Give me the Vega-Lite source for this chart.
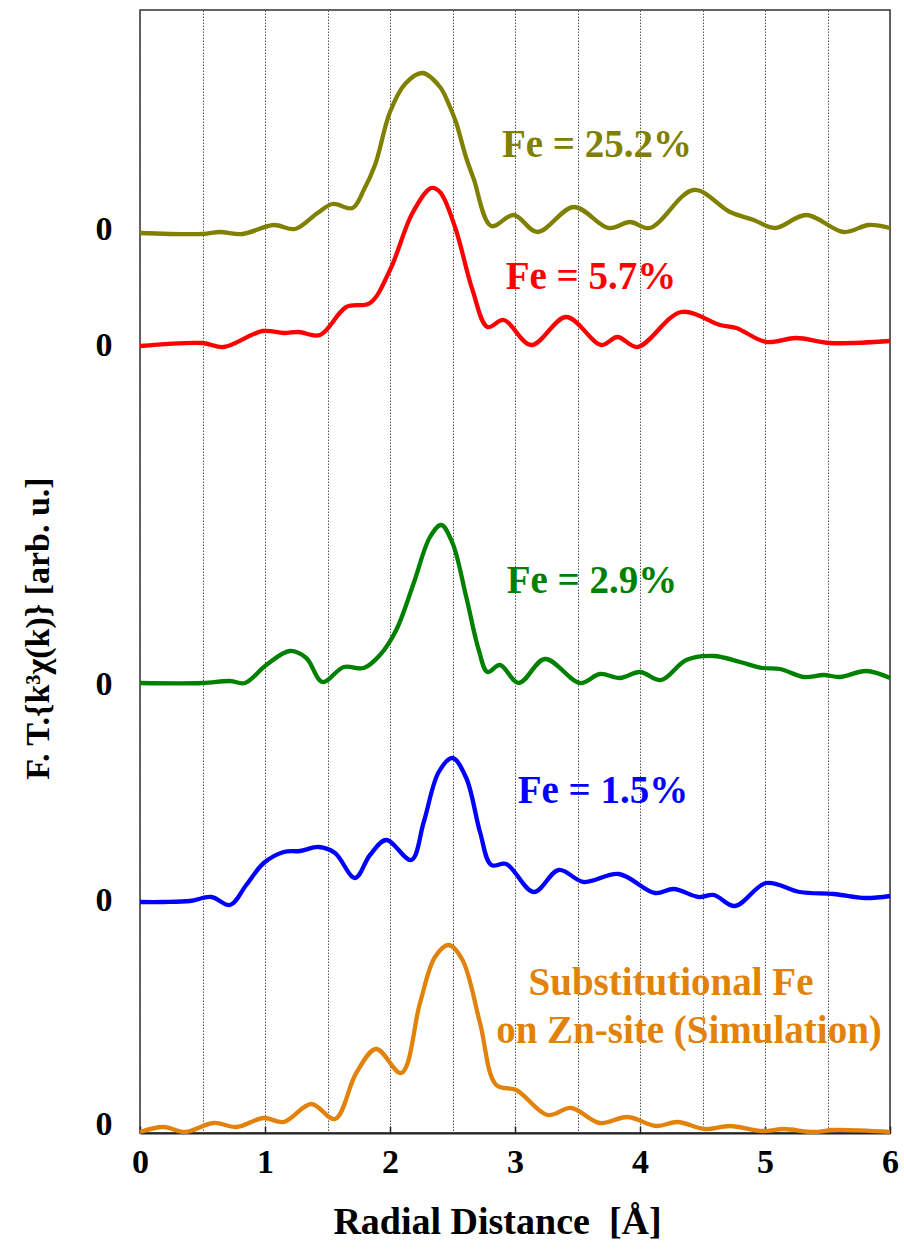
{
  "$schema": "https://vega.github.io/schema/vega-lite/v6.json",
  "width": 750,
  "height": 1123,
  "autosize": {"type": "none"},
  "padding": {"left": 140, "top": 10, "right": 14, "bottom": 116},
  "background": "white",
  "config": {"view": {"stroke": "#333", "strokeWidth": 1.5}, "font": "Liberation Serif"},
  "datasets": {
    "curves": [
      {"series": "Fe = 25.2%", "r": 0, "v": 900}, {"series": "Fe = 25.2%", "r": 0.5, "v": 899}, {"series": "Fe = 25.2%", "r": 0.64, "v": 901}, {"series": "Fe = 25.2%", "r": 0.82, "v": 899}, {"series": "Fe = 25.2%", "r": 1.07, "v": 908}, {"series": "Fe = 25.2%", "r": 1.24, "v": 904}, {"series": "Fe = 25.2%", "r": 1.42, "v": 920}, {"series": "Fe = 25.2%", "r": 1.54, "v": 929}, {"series": "Fe = 25.2%", "r": 1.7, "v": 925}, {"series": "Fe = 25.2%", "r": 1.79, "v": 943}, {"series": "Fe = 25.2%", "r": 1.88, "v": 968}, {"series": "Fe = 25.2%", "r": 2.0, "v": 1021}, {"series": "Fe = 25.2%", "r": 2.12, "v": 1049}, {"series": "Fe = 25.2%", "r": 2.26, "v": 1060}, {"series": "Fe = 25.2%", "r": 2.4, "v": 1046}, {"series": "Fe = 25.2%", "r": 2.48, "v": 1026}, {"series": "Fe = 25.2%", "r": 2.53, "v": 1010}, {"series": "Fe = 25.2%", "r": 2.61, "v": 975}, {"series": "Fe = 25.2%", "r": 2.67, "v": 954}, {"series": "Fe = 25.2%", "r": 2.81, "v": 907}, {"series": "Fe = 25.2%", "r": 2.99, "v": 918}, {"series": "Fe = 25.2%", "r": 3.18, "v": 901}, {"series": "Fe = 25.2%", "r": 3.47, "v": 926}, {"series": "Fe = 25.2%", "r": 3.75, "v": 905}, {"series": "Fe = 25.2%", "r": 3.92, "v": 911}, {"series": "Fe = 25.2%", "r": 4.08, "v": 905}, {"series": "Fe = 25.2%", "r": 4.43, "v": 943}, {"series": "Fe = 25.2%", "r": 4.72, "v": 921}, {"series": "Fe = 25.2%", "r": 4.91, "v": 913}, {"series": "Fe = 25.2%", "r": 5.08, "v": 905}, {"series": "Fe = 25.2%", "r": 5.33, "v": 918}, {"series": "Fe = 25.2%", "r": 5.63, "v": 901}, {"series": "Fe = 25.2%", "r": 5.83, "v": 908}, {"series": "Fe = 25.2%", "r": 6.0, "v": 905},

      {"series": "Fe = 5.7%", "r": 0, "v": 787}, {"series": "Fe = 5.7%", "r": 0.5, "v": 790}, {"series": "Fe = 5.7%", "r": 0.67, "v": 786}, {"series": "Fe = 5.7%", "r": 0.98, "v": 802}, {"series": "Fe = 5.7%", "r": 1.15, "v": 800}, {"series": "Fe = 5.7%", "r": 1.27, "v": 801}, {"series": "Fe = 5.7%", "r": 1.44, "v": 798}, {"series": "Fe = 5.7%", "r": 1.65, "v": 826}, {"series": "Fe = 5.7%", "r": 1.84, "v": 830}, {"series": "Fe = 5.7%", "r": 2.0, "v": 863}, {"series": "Fe = 5.7%", "r": 2.18, "v": 920}, {"series": "Fe = 5.7%", "r": 2.33, "v": 945}, {"series": "Fe = 5.7%", "r": 2.4, "v": 941}, {"series": "Fe = 5.7%", "r": 2.52, "v": 906}, {"series": "Fe = 5.7%", "r": 2.66, "v": 843}, {"series": "Fe = 5.7%", "r": 2.78, "v": 806}, {"series": "Fe = 5.7%", "r": 2.91, "v": 813}, {"series": "Fe = 5.7%", "r": 3.13, "v": 788}, {"series": "Fe = 5.7%", "r": 3.41, "v": 816}, {"series": "Fe = 5.7%", "r": 3.69, "v": 788}, {"series": "Fe = 5.7%", "r": 3.82, "v": 796}, {"series": "Fe = 5.7%", "r": 3.98, "v": 786}, {"series": "Fe = 5.7%", "r": 4.33, "v": 821}, {"series": "Fe = 5.7%", "r": 4.64, "v": 808}, {"series": "Fe = 5.7%", "r": 4.77, "v": 805}, {"series": "Fe = 5.7%", "r": 5.01, "v": 791}, {"series": "Fe = 5.7%", "r": 5.25, "v": 795}, {"series": "Fe = 5.7%", "r": 5.52, "v": 790}, {"series": "Fe = 5.7%", "r": 6.0, "v": 792},

      {"series": "Fe = 2.9%", "r": 0, "v": 450}, {"series": "Fe = 2.9%", "r": 0.5, "v": 450}, {"series": "Fe = 2.9%", "r": 0.72, "v": 452}, {"series": "Fe = 2.9%", "r": 0.84, "v": 450}, {"series": "Fe = 2.9%", "r": 1.01, "v": 468}, {"series": "Fe = 2.9%", "r": 1.2, "v": 482}, {"series": "Fe = 2.9%", "r": 1.33, "v": 475}, {"series": "Fe = 2.9%", "r": 1.46, "v": 451}, {"series": "Fe = 2.9%", "r": 1.63, "v": 466}, {"series": "Fe = 2.9%", "r": 1.79, "v": 465}, {"series": "Fe = 2.9%", "r": 1.92, "v": 478}, {"series": "Fe = 2.9%", "r": 2.05, "v": 503}, {"series": "Fe = 2.9%", "r": 2.19, "v": 550}, {"series": "Fe = 2.9%", "r": 2.32, "v": 596}, {"series": "Fe = 2.9%", "r": 2.41, "v": 608}, {"series": "Fe = 2.9%", "r": 2.5, "v": 590}, {"series": "Fe = 2.9%", "r": 2.61, "v": 536}, {"series": "Fe = 2.9%", "r": 2.71, "v": 483}, {"series": "Fe = 2.9%", "r": 2.78, "v": 461}, {"series": "Fe = 2.9%", "r": 2.88, "v": 468}, {"series": "Fe = 2.9%", "r": 3.03, "v": 450}, {"series": "Fe = 2.9%", "r": 3.24, "v": 474}, {"series": "Fe = 2.9%", "r": 3.52, "v": 450}, {"series": "Fe = 2.9%", "r": 3.68, "v": 459}, {"series": "Fe = 2.9%", "r": 3.84, "v": 455}, {"series": "Fe = 2.9%", "r": 4.0, "v": 461}, {"series": "Fe = 2.9%", "r": 4.17, "v": 453}, {"series": "Fe = 2.9%", "r": 4.37, "v": 473}, {"series": "Fe = 2.9%", "r": 4.59, "v": 477}, {"series": "Fe = 2.9%", "r": 4.8, "v": 471}, {"series": "Fe = 2.9%", "r": 4.98, "v": 465}, {"series": "Fe = 2.9%", "r": 5.12, "v": 464}, {"series": "Fe = 2.9%", "r": 5.31, "v": 456}, {"series": "Fe = 2.9%", "r": 5.47, "v": 458}, {"series": "Fe = 2.9%", "r": 5.6, "v": 456}, {"series": "Fe = 2.9%", "r": 5.81, "v": 462}, {"series": "Fe = 2.9%", "r": 6.0, "v": 455},

      {"series": "Fe = 1.5%", "r": 0, "v": 231}, {"series": "Fe = 1.5%", "r": 0.19, "v": 231}, {"series": "Fe = 1.5%", "r": 0.4, "v": 232}, {"series": "Fe = 1.5%", "r": 0.57, "v": 236}, {"series": "Fe = 1.5%", "r": 0.72, "v": 228}, {"series": "Fe = 1.5%", "r": 0.85, "v": 248}, {"series": "Fe = 1.5%", "r": 0.99, "v": 270}, {"series": "Fe = 1.5%", "r": 1.15, "v": 281}, {"series": "Fe = 1.5%", "r": 1.28, "v": 282}, {"series": "Fe = 1.5%", "r": 1.43, "v": 286}, {"series": "Fe = 1.5%", "r": 1.56, "v": 280}, {"series": "Fe = 1.5%", "r": 1.72, "v": 255}, {"series": "Fe = 1.5%", "r": 1.84, "v": 278}, {"series": "Fe = 1.5%", "r": 1.97, "v": 293}, {"series": "Fe = 1.5%", "r": 2.17, "v": 273}, {"series": "Fe = 1.5%", "r": 2.27, "v": 311}, {"series": "Fe = 1.5%", "r": 2.39, "v": 361}, {"series": "Fe = 1.5%", "r": 2.5, "v": 375}, {"series": "Fe = 1.5%", "r": 2.61, "v": 355}, {"series": "Fe = 1.5%", "r": 2.72, "v": 301}, {"series": "Fe = 1.5%", "r": 2.81, "v": 268}, {"series": "Fe = 1.5%", "r": 2.93, "v": 269}, {"series": "Fe = 1.5%", "r": 3.15, "v": 241}, {"series": "Fe = 1.5%", "r": 3.35, "v": 263}, {"series": "Fe = 1.5%", "r": 3.55, "v": 251}, {"series": "Fe = 1.5%", "r": 3.83, "v": 259}, {"series": "Fe = 1.5%", "r": 4.12, "v": 240}, {"series": "Fe = 1.5%", "r": 4.27, "v": 244}, {"series": "Fe = 1.5%", "r": 4.47, "v": 236}, {"series": "Fe = 1.5%", "r": 4.59, "v": 238}, {"series": "Fe = 1.5%", "r": 4.76, "v": 227}, {"series": "Fe = 1.5%", "r": 5.01, "v": 250}, {"series": "Fe = 1.5%", "r": 5.28, "v": 241}, {"series": "Fe = 1.5%", "r": 5.55, "v": 239}, {"series": "Fe = 1.5%", "r": 5.8, "v": 235}, {"series": "Fe = 1.5%", "r": 6.0, "v": 237},

      {"series": "Simulation", "r": 0, "v": 1}, {"series": "Simulation", "r": 0.19, "v": 6}, {"series": "Simulation", "r": 0.36, "v": 1}, {"series": "Simulation", "r": 0.59, "v": 10}, {"series": "Simulation", "r": 0.77, "v": 6}, {"series": "Simulation", "r": 0.99, "v": 15}, {"series": "Simulation", "r": 1.15, "v": 11}, {"series": "Simulation", "r": 1.37, "v": 29}, {"series": "Simulation", "r": 1.56, "v": 14}, {"series": "Simulation", "r": 1.73, "v": 60}, {"series": "Simulation", "r": 1.89, "v": 84}, {"series": "Simulation", "r": 2.09, "v": 60}, {"series": "Simulation", "r": 2.24, "v": 130}, {"series": "Simulation", "r": 2.36, "v": 176}, {"series": "Simulation", "r": 2.47, "v": 188}, {"series": "Simulation", "r": 2.58, "v": 173}, {"series": "Simulation", "r": 2.72, "v": 110}, {"series": "Simulation", "r": 2.85, "v": 48}, {"series": "Simulation", "r": 3.01, "v": 43}, {"series": "Simulation", "r": 3.26, "v": 18}, {"series": "Simulation", "r": 3.45, "v": 25}, {"series": "Simulation", "r": 3.68, "v": 10}, {"series": "Simulation", "r": 3.9, "v": 16}, {"series": "Simulation", "r": 4.13, "v": 7}, {"series": "Simulation", "r": 4.3, "v": 11}, {"series": "Simulation", "r": 4.52, "v": 4}, {"series": "Simulation", "r": 4.72, "v": 7}, {"series": "Simulation", "r": 4.98, "v": 2}, {"series": "Simulation", "r": 5.15, "v": 4}, {"series": "Simulation", "r": 5.39, "v": 1}, {"series": "Simulation", "r": 5.55, "v": 3}, {"series": "Simulation", "r": 6.0, "v": 1}
    ],
    "labels": [
      {"series": "Fe = 25.2%", "text": "Fe = 25.2%", "r": 3.656, "v": 976},
      {"series": "Fe = 5.7%", "text": "Fe = 5.7%", "r": 3.608, "v": 844},
      {"series": "Fe = 2.9%", "text": "Fe = 2.9%", "r": 3.616, "v": 540},
      {"series": "Fe = 1.5%", "text": "Fe = 1.5%", "r": 3.704, "v": 330},
      {"series": "Simulation", "text": "Substitutional Fe", "r": 4.248, "v": 138},
      {"series": "Simulation", "text": "on Zn-site (Simulation)", "r": 4.392, "v": 90}
    ]
  },
  "encoding": {
    "x": {
      "field": "r", "type": "quantitative",
      "scale": {"domain": [0, 6], "nice": false, "zero": false},
      "axis": {
        "values": [0, 0.5, 1, 1.5, 2, 2.5, 3, 3.5, 4, 4.5, 5, 5.5, 6],
        "labelExpr": "datum.value % 1 === 0 ? format(datum.value, 'd') : ''",
        "labelFlush": false,
        "grid": true, "gridDash": [1.5, 1.5], "gridColor": "#555", "gridWidth": 1,
        "tickSize": -7, "tickWidth": 1.5,
        "tickColor": {"condition": {"test": "datum.value % 1 === 0", "value": "#222"}, "value": "transparent"},
        "domainColor": "#222", "domainWidth": 2,
        "labelFontSize": 34, "labelFontWeight": "bold", "labelColor": "black", "labelPadding": 19,
        "title": "Radial Distance\u00a0\u00a0[Å]", "titleFontSize": 38, "titleFontWeight": "bold", "titleColor": "black",
        "titleX": 357, "titleY": 89, "titleAlign": "center", "titleBaseline": "middle"
      }
    },
    "y": {
      "field": "v", "type": "quantitative",
      "scale": {"domain": [0, 1123], "nice": false, "zero": false},
      "axis": {
        "values": [904, 788, 449, 233, 9],
        "labelExpr": "'0'",
        "ticks": false, "domain": false, "grid": false,
        "labelFontSize": 34, "labelFontWeight": "bold", "labelColor": "black", "labelPadding": 28,
        "title": "F. T.{k³χ(k)} [arb. u.]", "titleFontSize": 34, "titleFontWeight": "bold", "titleColor": "black",
        "titleX": -102, "titleY": 618, "titleAngle": -90, "titleAlign": "center", "titleBaseline": "middle"
      }
    },
    "color": {
      "field": "series", "type": "nominal",
      "scale": {
        "domain": ["Fe = 25.2%", "Fe = 5.7%", "Fe = 2.9%", "Fe = 1.5%", "Simulation"],
        "range": ["#808000", "#FF0000", "#008000", "#0000FF", "#E3820A"]
      },
      "legend": null
    }
  },
  "layer": [
    {
      "data": {"name": "curves"},
      "mark": {"type": "line", "strokeWidth": 4.3, "interpolate": "catmull-rom"}
    },
    {
      "data": {"name": "labels"},
      "mark": {"type": "text", "fontSize": 39, "fontWeight": "bold", "font": "Liberation Serif", "align": "center", "baseline": "alphabetic"},
      "encoding": {"text": {"field": "text"}}
    }
  ]
}
